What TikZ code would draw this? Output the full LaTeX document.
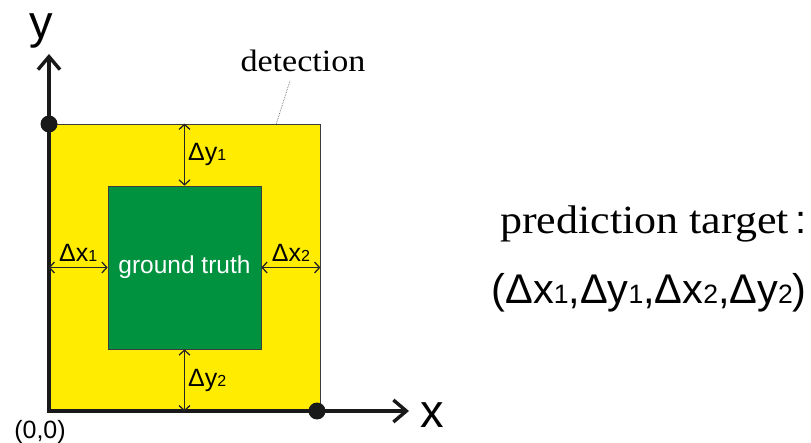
\documentclass[tikz,border=0pt]{standalone}
\usepackage{fontspec}
\usepackage{graphicx}
\usetikzlibrary{arrows.meta,positioning}
\newfontfamily\arialfont{Liberation Sans}
\newfontfamily\seriffont[FakeStretch=1.1]{Liberation Serif}
\definecolor{detyellow}{RGB}{255,236,0}
\definecolor{gtgreen}{RGB}{0,146,63}
\definecolor{edgegray}{RGB}{60,60,60}
\newcommand{\dvar}[2]{Δ#1\scalebox{0.64}{#2}}
\tikzset{
  detbox/.style={
    draw=edgegray,
    fill=detyellow,
    line width=0.8pt,
    minimum width=271pt,
    minimum height=287pt,
    inner sep=0pt
  },
  gtbox/.style={
    draw=edgegray,
    fill=gtgreen,
    line width=0.6pt,
    minimum width=153pt,
    minimum height=163pt,
    text=white,
    font=\arialfont\fontsize{24.5}{28}\selectfont
  },
  axisarrow/.style={-{Straight Barb[length=13pt,width=22pt]}, line width=3.4pt, draw=black!90},
  gaparrow/.style={{Straight Barb[length=5pt,width=11pt]}-{Straight Barb[length=5pt,width=11pt]}, line width=1.3pt, draw=black!85},
  gaplabel/.style={font=\arialfont\fontsize{25}{28}\selectfont, inner sep=3pt},
  cornerdot/.style={circle, fill=black!90, minimum size=17pt, inner sep=0pt},
  axislabel/.style={font=\arialfont\fontsize{47}{50}\selectfont, anchor=base, inner sep=0pt},
  leader/.style={densely dotted, line width=0.7pt, draw=black!60}
}

\begin{document}
\begin{tikzpicture}[x=1pt, y=1pt]
    \useasboundingbox (0,0) rectangle (811,-443);

    \node[detbox] (det) at (184.5,-267.5) {};
    \node[gtbox] (gt) at (184.5,-267.5) {ground truth};

    \coordinate (origin) at (49,-411);
    \coordinate (ytip) at (49,-54);
    \coordinate (xtip) at (409,-411);

    \draw[axisarrow] ([yshift=-1.7pt]origin) -- (ytip);
    \draw[axisarrow] ([xshift=-1.7pt]origin) -- (xtip);

    \node[cornerdot] (ydot) at (49,-124) {};
    \node[cornerdot] (xdot) at (317,-411) {};

    \node[axislabel] (ylab) at (41,-39) {y};
    \node[axislabel] (xlab) at (432,-427) {x};
    \node[font=\arialfont\fontsize{25}{28}\selectfont, anchor=base] (orig) at (40,-438) {(0,0)};

    \node[font=\seriffont\fontsize{31}{34}\selectfont, anchor=base] (detlab) at (303,-72) {detection};
    \draw[leader] ([xshift=-44pt]det.north east) -- ([xshift=-13pt,yshift=-5pt]detlab.south);

    % gaps between the two boxes
    \draw[gaparrow] (gt.north |- det.north) -- node[gaplabel, right] {\dvar{y}{1}} (gt.north);
    \draw[gaparrow] (gt.south) -- node[gaplabel, right] {\dvar{y}{2}} (gt.south |- det.south);
    \draw[gaparrow] (det.west |- gt.center) -- node[gaplabel, above=2pt] {\dvar{x}{1}} (gt.west |- gt.center);
    \draw[gaparrow] (gt.east |- gt.center) -- node[gaplabel, above=2pt] {\dvar{x}{2}} (det.east |- gt.center);

    \node[font=\seriffont\fontsize{40}{44}\selectfont, anchor=base west, inner sep=0pt] (target) at (500,-234) {prediction target\,{\arialfont :}};
    \node[font=\arialfont\fontsize{41.5}{46}\selectfont, anchor=base east, inner sep=0pt] (tuple) at (807,-304)
      {(\dvar{x}{1},\dvar{y}{1},\dvar{x}{2},\dvar{y}{2})};
  \end{tikzpicture}
\end{document}
